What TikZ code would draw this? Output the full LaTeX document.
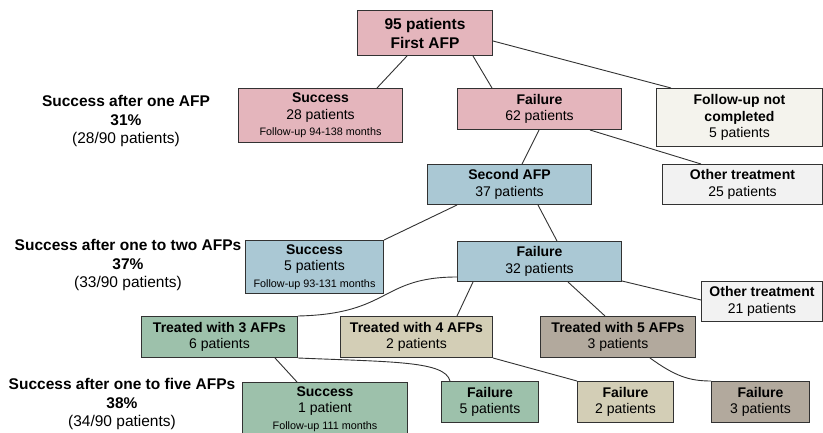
\documentclass[tikz,border=0pt]{standalone}
\usepackage{fontspec}
\setmainfont{Liberation Sans}
\definecolor{cpink}{RGB}{228,181,188}
\definecolor{cblue}{RGB}{170,200,212}
\definecolor{cgreen}{RGB}{157,193,171}
\definecolor{ctan}{RGB}{211,206,182}
\definecolor{ctaupe}{RGB}{178,169,157}
\definecolor{cfup}{RGB}{244,243,237}
\definecolor{cother}{RGB}{242,242,242}
\definecolor{cline}{RGB}{50,50,50}
\begin{document}
\begin{tikzpicture}[x=1pt,y=-1pt,
  box/.style={draw=cline,line width=1pt,anchor=north west,inner sep=0pt,align=center,font=\fontsize{14}{16.5}\selectfont},
  conn/.style={draw=cline,line width=0.9pt},
  lab/.style={align=center,font=\fontsize{15.5}{18.5}\selectfont},
  small/.style={}]
\useasboundingbox[fill=white] (0,0) rectangle (823,433);
\newcommand{\sm}[1]{{\fontsize{10.8}{13}\selectfont #1}}
% boxes
\node[box,fill=cpink,minimum width=135pt,minimum height=45pt,font=\fontsize{15.5}{19}\selectfont\bfseries] (top) at (357,10) {95 patients\\First AFP};
\node[box,fill=cpink,minimum width=164pt,minimum height=54pt] (s1) at (238,88) {\textbf{Success}\\28 patients\\\sm{Follow-up 94-138 months}};
\node[box,fill=cpink,minimum width=164pt,minimum height=41pt] (f1) at (457,88) {\textbf{Failure}\\62 patients};
\node[box,fill=cfup,minimum width=166pt,minimum height=58pt] (fup) at (656,88) {\textbf{Follow-up not}\\\textbf{completed}\\5 patients};
\node[box,fill=cblue,minimum width=164pt,minimum height=40pt] (sec) at (427,164) {\textbf{Second AFP}\\37 patients};
\node[box,fill=cother,minimum width=160pt,minimum height=40pt] (o25) at (662,164) {\textbf{Other treatment}\\25 patients};
\node[box,fill=cblue,minimum width=138pt,minimum height=53pt] (s2) at (245,240) {\textbf{Success}\\5 patients\\\sm{Follow-up 93-131 months}};
\node[box,fill=cblue,minimum width=164pt,minimum height=40pt] (f2) at (457,241) {\textbf{Failure}\\32 patients};
\node[box,fill=cother,minimum width=121pt,minimum height=40pt] (o21) at (701,281) {\textbf{Other treatment}\\21 patients};
\node[box,fill=cgreen,minimum width=156pt,minimum height=41pt] (t3) at (141,316) {\textbf{Treated with 3 AFPs}\\6 patients};
\node[box,fill=ctan,minimum width=152pt,minimum height=41pt] (t4) at (340,316) {\textbf{Treated with 4 AFPs}\\2 patients};
\node[box,fill=ctaupe,minimum width=155pt,minimum height=41pt] (t5) at (540,316) {\textbf{Treated with 5 AFPs}\\3 patients};
\node[box,fill=cgreen,minimum width=165pt,minimum height=53pt] (s3) at (242,382) {\textbf{Success}\\1 patient\\\sm{Follow-up 111 months}};
\node[box,fill=cgreen,minimum width=97pt,minimum height=41pt] (g5) at (441,381) {\textbf{Failure}\\5 patients};
\node[box,fill=ctan,minimum width=96pt,minimum height=41pt] (g2) at (577,381) {\textbf{Failure}\\2 patients};
\node[box,fill=ctaupe,minimum width=98pt,minimum height=41pt] (g3) at (711,381) {\textbf{Failure}\\3 patients};
% left labels
\node[lab] (l1) at (126,121) {\textbf{Success after one AFP}\\\textbf{31\%}\\(28/90 patients)};
\node[lab] (l2) at (128,265) {\textbf{Success after one to two AFPs}\\\textbf{37\%}\\(33/90 patients)};
\node[lab] (l3) at (122,404) {\textbf{Success after one to five AFPs}\\\textbf{38\%}\\(34/90 patients)};
% connectors
\draw[conn] ([xshift=50pt]top.south west) -- ([xshift=139pt]s1.north west);
\draw[conn] ([xshift=116pt]top.south west) -- ([xshift=35pt]f1.north west);
\draw[conn] ([yshift=-31pt]top.north east) -- ([xshift=15pt]fup.north west);
\draw[conn] ([xshift=82pt]f1.south west) -- ([xshift=95pt]sec.north west);
\draw[conn] ([xshift=133pt]f1.south west) -- ([xshift=39pt]o25.north west);
\draw[conn] ([xshift=30pt]sec.south west) -- (s2.north east);
\draw[conn] ([xshift=111pt]sec.south west) -- ([xshift=100pt]f2.north west);
\draw[conn] ([yshift=5pt]f2.south west) .. controls +(-77,0) and +(93,-2) .. (t3.north east);
\draw[conn] ([xshift=16pt]f2.south west) -- ([xshift=117pt]t4.north west);
\draw[conn] ([xshift=111pt]f2.south west) -- ([xshift=65pt]t5.north west);
\draw[conn] ([yshift=1pt]f2.south east) -- ([yshift=-19pt]o21.north west);
\draw[conn] ([xshift=134pt]t3.south west) -- ([xshift=55pt]s3.north west);
\draw[conn] (t3.south east) .. controls +(95,4) and +(-5,-20) .. ([xshift=9pt]g5.north west);
\draw[conn] (t4.south east) -- (g2.north west);
\draw[conn] ([xshift=110pt]t5.south west) .. controls +(25,18) and +(-22,0) .. (g3.north west);
\end{tikzpicture}
\end{document}
